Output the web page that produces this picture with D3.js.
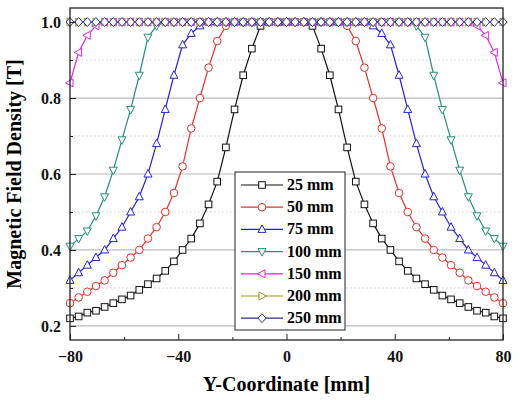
<!DOCTYPE html>
<html><head><meta charset="utf-8">
<script src="https://cdn.jsdelivr.net/npm/d3@7"></script>
<style>body{margin:0;background:#fff}text{font-family:"Liberation Serif","Times New Roman",serif;font-weight:bold}</style>
</head><body><svg id="c" width="520" height="400"></svg>
<script>
// right half of each profile, x = 0..80 step 3.2 mm (field is symmetric about 0)
let xs = d3.range(26).map(i => +(i * 3.2).toFixed(1));
let b25 = [1,1,1,0.99,0.93,0.86,0.77,0.67,0.58,0.52,0.47,0.43,0.40,0.37,0.345,0.325,0.31,0.295,0.28,0.27,0.26,0.25,0.24,0.235,0.225,0.22];
let b50 = [1,1,1,1,1,1,1,0.99,0.95,0.88,0.80,0.72,0.62,0.55,0.50,0.46,0.43,0.40,0.38,0.36,0.34,0.32,0.305,0.29,0.275,0.26];
let b75 = [1,1,1,1,1,1,1,1,1,1,0.99,0.97,0.94,0.86,0.77,0.68,0.60,0.54,0.50,0.46,0.43,0.40,0.38,0.36,0.34,0.32];
let b100 = [1,1,1,1,1,1,1,1,1,1,1,1,1,1,1,0.99,0.96,0.86,0.77,0.69,0.61,0.54,0.49,0.45,0.43,0.41];
let b150 = [1,1,1,1,1,1,1,1,1,1,1,1,1,1,1,1,1,1,1,1,1,1,0.99,0.965,0.92,0.84];
let b200 = [1,1,1,1,1,1,1,1,1,1,1,1,1,1,1,1,1,1,1,1,1,1,1,1,1,1];
let b250 = [1,1,1,1,1,1,1,1,1,1,1,1,1,1,1,1,1,1,1,1,1,1,1,1,1,1];
let labels = ['25 mm','50 mm','75 mm','100 mm','150 mm','200 mm','250 mm'];
let colors = ['#111','#e8302a','#2424d8','#23907e','#e424e4','#9a9a1c','#30308c'];
let xTicks = [-80,-40,0,40,80];
let yTicks = [0.2,0.4,0.6,0.8,1.0];

let halves = [b25,b50,b75,b100,b150,b200,b250];
let series = halves.map(h => {
    let pts = xs.map((x, i) => [x, h[i]]);
    let left = pts.slice(1).map(p => [-p[0], p[1]]).reverse();
    return left.concat(pts);
});

let svg = d3.select('#c');
let m = {l: 70, r: 503, t: 8, b: 340};
let x = d3.scaleLinear().domain([-80, 80]).range([m.l, m.r]);
let y = d3.scaleLinear().domain([0.163, 1.037]).range([m.b, m.t]);

// grid
svg.selectAll('.g').data(yTicks).enter().append('line')
    .attr('x1', m.l).attr('x2', m.r).attr('y1', d => y(d)).attr('y2', d => y(d))
    .attr('stroke', '#bbb').attr('stroke-width', 1.2);
svg.selectAll('.gm').data([0.3,0.5,0.7,0.9]).enter().append('line')
    .attr('x1', m.l).attr('x2', m.r).attr('y1', d => y(d)).attr('y2', d => y(d))
    .attr('stroke', '#ccc').attr('stroke-dasharray', '1.5,2.5');

function marker(g, k) {
    let s = 4;
    if (k === 0) return g.append('rect').attr('x', -3.3).attr('y', -3.3).attr('width', 6.6).attr('height', 6.6);
    if (k === 1) return g.append('circle').attr('r', 3.8);
    let p;
    if (k === 2) p = [[0,-s-0.5],[s,s-1],[-s,s-1]];
    if (k === 3) p = [[0,s+0.5],[s,-s+1],[-s,-s+1]];
    if (k === 4) p = [[-s-0.5,0],[s-1,-s],[s-1,s]];
    if (k === 5) p = [[s+0.5,0],[-s+1,-s],[-s+1,s]];
    if (k === 6) p = [[0,-s-0.5],[s,0],[0,s+0.5],[-s,0]];
    return g.append('path').attr('d', 'M' + p.join('L') + 'Z');
}

let line = d3.line().x(d => x(d[0])).y(d => y(d[1]));
svg.append('clipPath').attr('id', 'cp').append('rect')
    .attr('x', m.l - 6).attr('y', m.t).attr('width', m.r - m.l + 12).attr('height', m.b - m.t);
let plot = svg.append('g').attr('clip-path', 'url(#cp)');
series.forEach((s, k) => {
    plot.append('path').datum(s).attr('d', line).attr('fill', 'none')
        .attr('stroke', colors[k]).attr('stroke-width', 1.2);
    s.forEach(d => {
        let g = plot.append('g').attr('transform', `translate(${x(d[0])},${y(d[1])})`);
        marker(g, k).attr('fill', 'white').attr('stroke', colors[k]).attr('stroke-width', 1);
    });
});

// frame and axes
svg.append('rect').attr('x', m.l).attr('y', m.t).attr('width', m.r - m.l).attr('height', m.b - m.t)
    .attr('fill', 'none').attr('stroke', '#222').attr('stroke-width', 1.3);
svg.append('g').attr('transform', `translate(0,${m.b})`)
    .call(d3.axisBottom(x).tickValues(xTicks).tickSize(-6).tickPadding(11).tickFormat(d3.format('d')));
svg.append('g').attr('transform', `translate(0,${m.b})`)
    .call(d3.axisBottom(x).tickValues([-60,-20,20,60]).tickSize(-3).tickFormat(''));
svg.append('g').attr('transform', `translate(${m.l},0)`)
    .call(d3.axisLeft(y).tickValues(yTicks).tickSize(-6).tickPadding(9).tickFormat(d3.format('.1f')));
svg.append('g').attr('transform', `translate(${m.l},0)`)
    .call(d3.axisLeft(y).tickValues([0.3,0.5,0.7,0.9]).tickSize(-3).tickFormat(''));
svg.selectAll('.domain').remove();
svg.selectAll('.tick line').attr('stroke', '#222');
svg.selectAll('.tick text').attr('font-size', 16).attr('fill', '#111')
    .style('font-family', '"Liberation Serif",serif').style('font-weight', 'bold');

svg.append('text').attr('x', (m.l + m.r) / 2).attr('y', 391).attr('text-anchor', 'middle')
    .attr('font-size', 20).text('Y-Coordinate [mm]');
svg.append('text').attr('transform', `translate(21,${(m.t + m.b) / 2}) rotate(-90)`)
    .attr('text-anchor', 'middle').attr('font-size', 20).text('Magnetic Field Density [T]');

// legend
let lg = svg.append('g').attr('transform', 'translate(235,172)');
lg.append('rect').attr('width', 110).attr('height', 158).attr('fill', 'white').attr('stroke', '#222');
labels.forEach((t, k) => {
    let yy = 13 + k * 22.2;
    lg.append('line').attr('x1', 6).attr('x2', 48).attr('y1', yy).attr('y2', yy)
        .attr('stroke', colors[k]).attr('stroke-width', 1.2);
    let g = lg.append('g').attr('transform', `translate(27,${yy})`);
    marker(g, k).attr('fill', 'white').attr('stroke', colors[k]);
    lg.append('text').attr('x', 52).attr('y', yy + 5).attr('font-size', 16).text(t);
});
</script></body></html>
